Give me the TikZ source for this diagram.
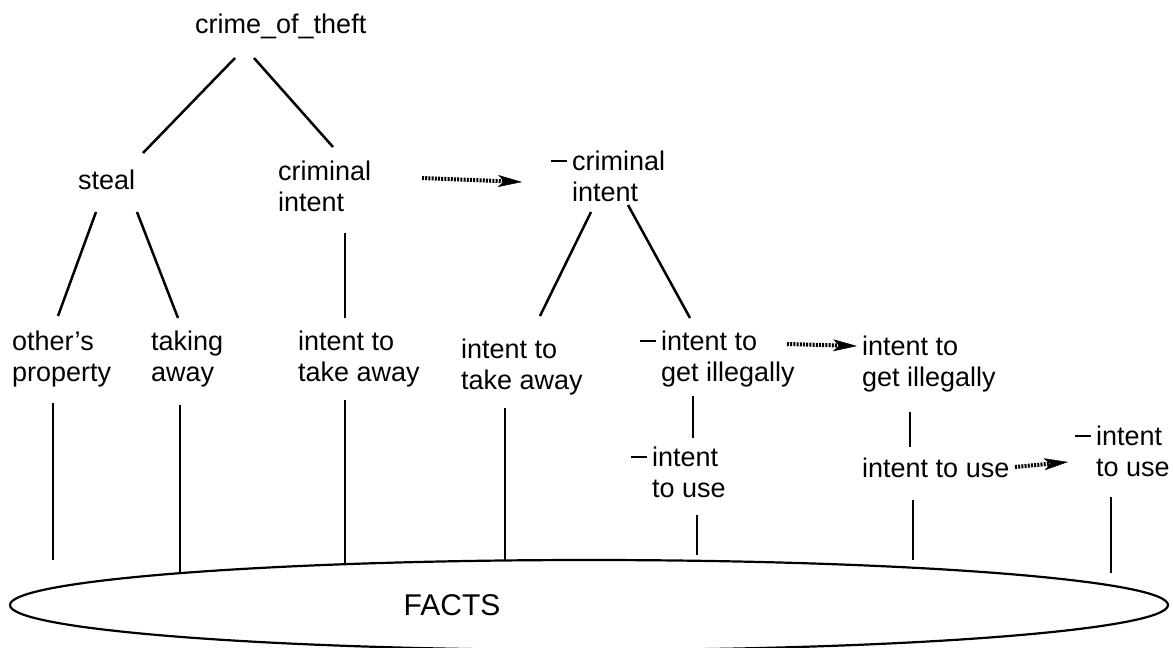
\documentclass[tikz,border=0pt]{standalone}
\usepackage{fontspec}
\setmainfont{Liberation Sans}
\usetikzlibrary{arrows.meta,shapes.geometric}

\tikzset{
  lbl/.style={font=\fontsize{27}{31}\selectfont, align=left, inner sep=0pt,
              anchor=north west, execute at begin node=\strut},
  link/.style={line width=2.5pt},
  drop/.style={line width=2.1pt},
  refine/.style={line width=4pt, dash pattern=on 2pt off 1.2pt,
                 -{Stealth[length=24pt,width=12pt,inset=6pt,line width=0.5pt]}},
}
% negation bar hung in front of a label
\newcommand{\negmark}{\llap{\rule[8pt]{16pt}{2.2pt}\kern5pt}}

\begin{document}
\begin{tikzpicture}[x=1pt,y=-1pt]
\useasboundingbox (0,0) rectangle (1173,648);

% the ground of facts
\node[draw, ellipse, line width=2.2pt, minimum width=1158pt, minimum height=90pt] (facts) at (589,605) {};
\node[font=\fontsize{30}{34}\selectfont, inner sep=0pt] (factslabel) at (452,605) {FACTS};

% concept nodes (north west corner = first baseline minus strut height)
\node[lbl] (crime)    at (195,11.3)  {crime\_of\_theft};
\node[lbl] (steal)    at (78,167.3)  {steal};
\node[lbl] (crimint)  at (278,160.3) {criminal\\intent};
\node[lbl] (ncrimint) at (572,150.3) {\negmark criminal\\intent};
\node[lbl] (others)   at (12,330.3)  {other's\\property};
\node[lbl] (taking)   at (151,330.3) {taking\\away};
\node[lbl] (ittaA)    at (298,330.3) {intent to\\take away};
\node[lbl] (ittaB)    at (461,338.3) {intent to\\take away};
\node[lbl] (nitgi)    at (661,330.3) {\negmark intent to\\get illegally};
\node[lbl] (itgi)     at (862,335.3) {intent to\\get illegally};
\node[lbl] (nituA)    at (652,446.3) {\negmark intent\\to use};
\node[lbl] (itu)      at (862,455.3) {intent to use};
\node[lbl] (nituB)    at (1096,425.3) {\negmark intent\\to use};

% free ends of the drops towards the facts
\coordinate (dOthers) at (53,560);
\coordinate (dTaking) at (180,573);
\coordinate (dIttaA)  at (345,565);
\coordinate (dIttaB)  at (505,560);
\coordinate (dNituA)  at (697,555);
\coordinate (dItu)    at (913,560);
\coordinate (dNituB)  at (1111,573);

% tree links
\draw[link] ([shift={(40,46.7)}]crime.north west) -- ([shift={(65,-14.3)}]steal.north west);
\draw[link] ([shift={(59,46.7)}]crime.north west) -- ([shift={(55,-13.3)}]crimint.north west);
\draw[link] ([shift={(18,44.7)}]steal.north west) -- ([shift={(46,-14.3)}]others.north west);
\draw[link] ([shift={(59,44.7)}]steal.north west) -- ([shift={(27,-12.3)}]taking.north west);
\draw[drop] ([shift={(67,72.7)}]crimint.north west) -- ([shift={(47,-12.3)}]ittaA.north west);
\draw[link] ([shift={(19,61.7)}]ncrimint.north west) -- ([shift={(79,-22.3)}]ittaB.north west);
\draw[link] ([shift={(56,54.7)}]ncrimint.north west) -- ([shift={(29,-12.3)}]nitgi.north west);
\draw[drop] ([shift={(32,65.7)}]nitgi.north west) -- ([shift={(41,-8.3)}]nituA.north west);
\draw[drop] ([shift={(48,76.7)}]itgi.north west) -- ([shift={(48,-8.3)}]itu.north west);

% drops to the facts
\draw[drop] ([shift={(41,72.7)}]others.north west) -- (dOthers);
\draw[drop] ([shift={(29,74.7)}]taking.north west) -- (dTaking);
\draw[drop] ([shift={(47,69.7)}]ittaA.north west) -- (dIttaA);
\draw[drop] ([shift={(44,69.7)}]ittaB.north west) -- (dIttaB);
\draw[drop] ([shift={(45,68.7)}]nituA.north west) -- (dNituA);
\draw[drop] ([shift={(51,44.7)}]itu.north west) -- (dItu);
\draw[drop] ([shift={(15,71.7)}]nituB.north west) -- (dNituB);

% refinement arrows
\draw[refine] ([shift={(144,17.7)}]crimint.north west) -- ([shift={(-50,31.7)}]ncrimint.north west);
\draw[refine] ([shift={(126,13.7)}]nitgi.north west) -- ([shift={(-5,10.7)}]itgi.north west);
\draw[refine] ([shift={(153,11.7)}]itu.north west) -- ([shift={(-28,36.7)}]nituB.north west);
\end{tikzpicture}
\end{document}
